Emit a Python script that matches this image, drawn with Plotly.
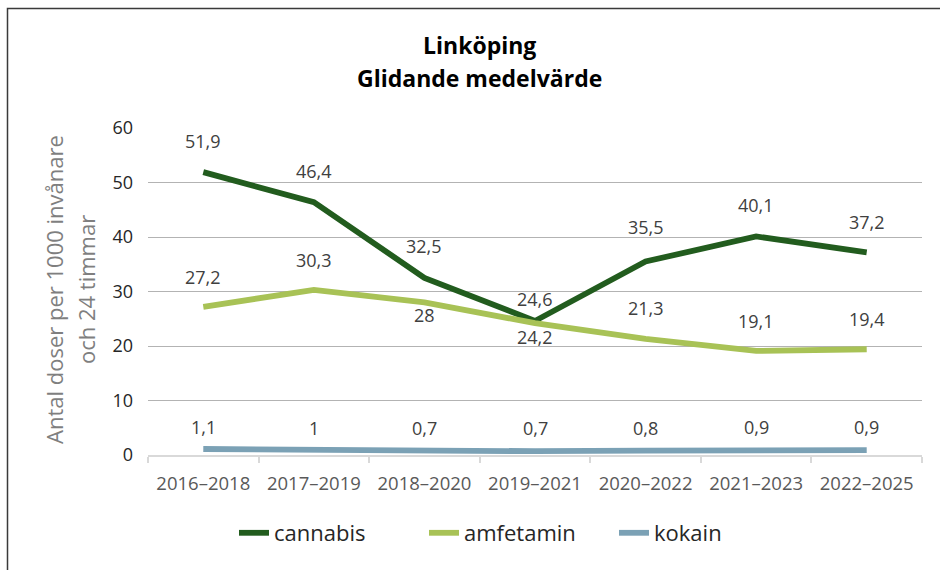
import plotly.graph_objects as go

categories = ["2016–2018", "2017–2019", "2018–2020", "2019–2021", "2020–2022", "2021–2023", "2022–2025"]
cannabis = [51.9, 46.4, 32.5, 24.6, 35.5, 40.1, 37.2]
amfetamin = [27.2, 30.3, 28.0, 24.2, 21.3, 19.1, 19.4]
kokain = [1.1, 1.0, 0.7, 0.7, 0.8, 0.9, 0.9]

series_names = ["cannabis", "amfetamin", "kokain"]
series_colors = ["#225c1e", "#a8c256", "#7ba1b5"]

# label offsets (px) relative to the point, positive = above
label_shift = {
    "cannabis": [31, 31, 32, 22, 35, 31, 30],
    "amfetamin": [30, 30, -13, -14, 31, 30, 30],
    "kokain": [22, 22, 23, 23, 23, 23, 23],
}

W, H = 940, 570
L, R, T, B = 148, 18, 128, 115
PW, PH = W - L - R, H - T - B


def px_x(p):
    return (p - L) / PW


def px_y(p):
    return (H - B - p) / PH


def fmt(v):
    s = f"{v:.1f}"
    if s.endswith(".0"):
        s = s[:-2]
    return s.replace(".", ",")


fig = go.Figure()
all_values = [cannabis, amfetamin, kokain]
for name, vals, col in zip(series_names, all_values, series_colors):
    fig.add_trace(go.Scatter(
        x=categories, y=vals, mode="lines", name=name,
        line=dict(color=col, width=5.8),
        hoverinfo="skip",
    ))

annotations = []
for name, vals in zip(series_names, all_values):
    for c, v, s in zip(categories, vals, label_shift[name]):
        annotations.append(dict(
            x=c, y=v, xref="x", yref="y", text=fmt(v), showarrow=False,
            yshift=s, font=dict(family="Open Sans", size=18, color="#404040"),
        ))

# title
for txt, yp in (("<b>Linköping</b>", 45), ("<b>Glidande medelvärde</b>", 78)):
    annotations.append(dict(x=px_x(479), y=px_y(yp), xref="paper", yref="paper",
                            xanchor="center", yanchor="middle",
                            text=txt, showarrow=False,
                            font=dict(family="Open Sans", size=23, color="#000000")))
# y-axis title
for txt, xp in (("Antal doser per 1000 invånare", 57), ("och 24 timmar", 89)):
    annotations.append(dict(x=px_x(xp - 3), y=px_y(290), xref="paper", yref="paper",
                            xanchor="center", yanchor="middle",
                            text=txt, showarrow=False, textangle=-90,
                            font=dict(family="Open Sans", size=22, color="#7f7f7f")))

fig.update_layout(
    width=W, height=H,
    margin=dict(l=L, r=R, t=T, b=B),
    paper_bgcolor="white", plot_bgcolor="white",
    font=dict(family="Open Sans", color="#404040"),
    showlegend=True,
    legend=dict(orientation="h", x=px_x(519), y=px_y(533), xanchor="center", yanchor="middle",
                font=dict(family="Open Sans", size=22, color="#262626"),
                entrywidth=145, entrywidthmode="pixels",
                itemclick=False, itemdoubleclick=False),
    annotations=annotations,
    shapes=[dict(type="rect", xref="paper", yref="paper",
                 x0=px_x(7.5), x1=px_x(950), y0=px_y(8.5), y1=px_y(590),
                 line=dict(color="#3a3a3a", width=1.5), layer="below")],
)

fig.update_xaxes(
    type="category", range=[-0.5, 6.5],
    showline=True, linecolor="#d9d9d9", linewidth=2,
    ticks="outside", tickson="boundaries", ticklen=6, tickcolor="#d9d9d9", tickwidth=2,
    tickfont=dict(family="Open Sans", size=18.5, color="#595959"),
    ticklabelstandoff=11,
    showgrid=False, fixedrange=True,
)
fig.update_yaxes(
    range=[0, 60], dtick=10, tick0=0,
    showgrid=True, gridcolor="#b3b3b3", gridwidth=1,
    zeroline=False, showline=False,
    tickfont=dict(family="Open Sans", size=18, color="#262626"),
    ticklabelstandoff=14, fixedrange=True,
)

fig.write_html("out.html")
